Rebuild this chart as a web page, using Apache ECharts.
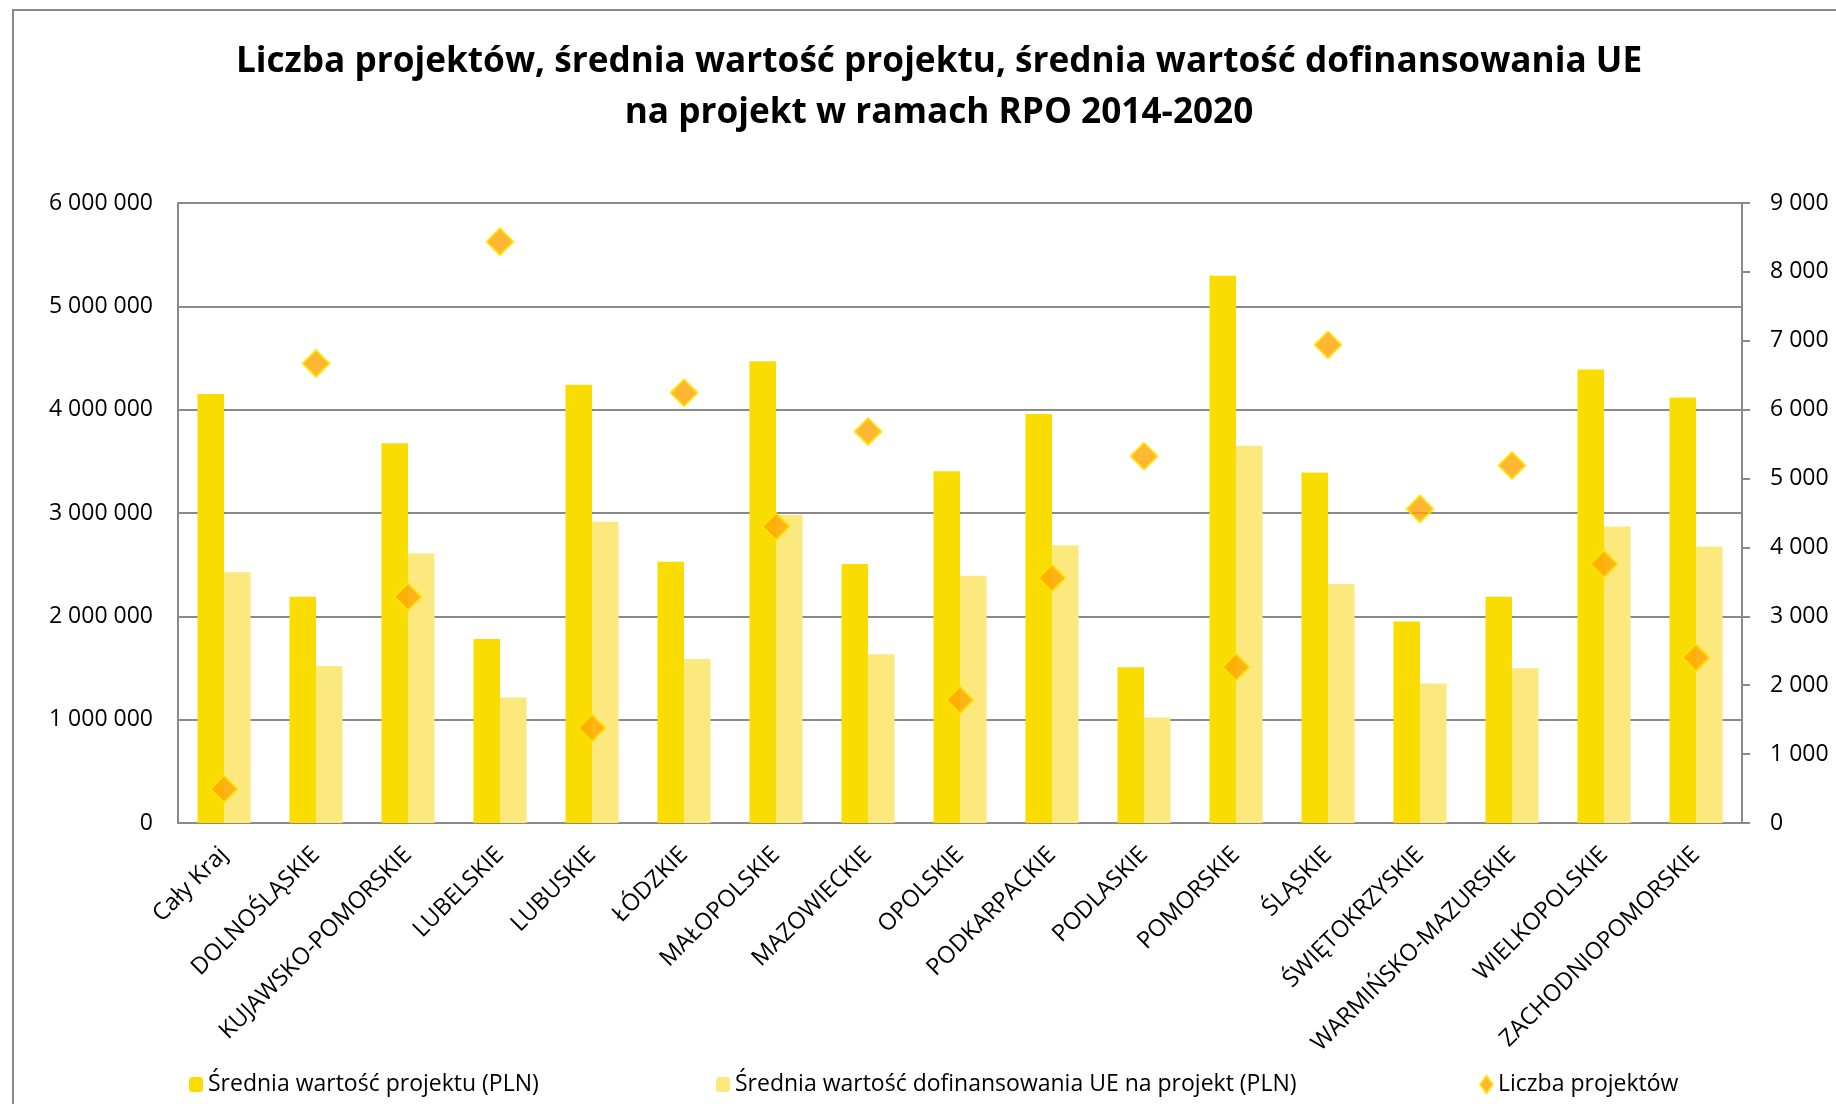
<!DOCTYPE html>
<html>
<head>
<meta charset="utf-8">
<script src="https://cdn.jsdelivr.net/npm/echarts@6/dist/echarts.min.js"></script>
<style>
  html, body { margin: 0; padding: 0; background: #fff; }
  #chart { width: 1836px; height: 1104px; }
</style>
</head>
<body>
<div id="chart"></div>
<script>
// Regions (voivodeships) plus the whole-country figure
const categories = [
  'Cały Kraj', 'DOLNOŚLĄSKIE', 'KUJAWSKO-POMORSKIE', 'LUBELSKIE', 'LUBUSKIE',
  'ŁÓDZKIE', 'MAŁOPOLSKIE', 'MAZOWIECKIE', 'OPOLSKIE', 'PODKARPACKIE',
  'PODLASKIE', 'POMORSKIE', 'ŚLĄSKIE', 'ŚWIĘTOKRZYSKIE', 'WARMIŃSKO-MAZURSKIE',
  'WIELKOPOLSKIE', 'ZACHODNIOPOMORSKIE'
];

// Średnia wartość projektu (PLN)
const avgProjectValue = [
  4151000, 2189000, 3675000, 1781000, 4242000,
  2529000, 4469000, 2507000, 3403000, 3958000,
  1508000, 5297000, 3391000, 1951000, 2189000,
  4389000, 4117000
];

// Średnia wartość dofinansowania UE na projekt (PLN)
const avgEuFunding = [
  2427000, 1520000, 2609000, 1214000, 2915000,
  1588000, 2983000, 1633000, 2393000, 2688000,
  1021000, 3652000, 2314000, 1350000, 1497000,
  2869000, 2677000
];

// Liczba projektów
const projectCount = [
  493, 6669, 3283, 8438, 1378,
  6244, 4304, 5682, 1786, 3556,
  5325, 2263, 6941, 4559, 5189,
  3760, 2399
];

const seriesNames = [
  'Średnia wartość projektu (PLN)',
  'Średnia wartość dofinansowania UE na projekt (PLN)',
  'Liczba projektów'
];

const FONT = '"Open Sans", sans-serif';
const GRID_GRAY = '#8a8a8a';

function spaced(v) {
  return String(v).replace(/\B(?=(\d{3})+(?!\d))/g, ' ');
}

const chart = echarts.init(document.getElementById('chart'));

const legendText = { fontFamily: FONT, fontSize: 23, color: '#000' };

chart.setOption({
  backgroundColor: '#ffffff',
  animation: false,
  title: {
    text: 'Liczba projektów, średnia wartość projektu, średnia wartość dofinansowania UE\nna projekt w ramach RPO 2014-2020',
    left: 934,
    top: 31,
    textAlign: 'center',
    textStyle: {
      fontFamily: FONT,
      fontWeight: 'bold',
      fontSize: 35.2,
      lineHeight: 51,
      color: '#000'
    }
  },
  graphic: [
    {
      type: 'rect',
      shape: { x: 13, y: 10, width: 1860, height: 1120 },
      style: { fill: 'none', stroke: GRID_GRAY, lineWidth: 2 },
      silent: true
    }
  ],
  legend: [
    {
      data: [seriesNames[0]],
      left: 184, top: 1068,
      itemWidth: 14, itemHeight: 15, itemGap: 8,
      textStyle: legendText
    },
    {
      data: [seriesNames[1]],
      left: 711, top: 1068,
      itemWidth: 14, itemHeight: 15, itemGap: 8,
      textStyle: legendText
    },
    {
      data: [seriesNames[2]],
      left: 1474, top: 1068,
      itemWidth: 13, itemHeight: 18, itemGap: 4,
      textStyle: legendText
    }
  ],
  grid: {
    left: 178,
    right: 94,
    top: 203,
    bottom: 281,
    containLabel: false
  },
  xAxis: {
    type: 'category',
    data: categories,
    axisLine: { show: true, lineStyle: { color: GRID_GRAY, width: 2 } },
    axisTick: { show: false },
    axisLabel: {
      interval: 0,
      rotate: 45,
      margin: 28,
      fontFamily: FONT,
      fontSize: 23.5,
      color: '#000'
    }
  },
  yAxis: [
    {
      type: 'value',
      min: 0,
      max: 6000000,
      interval: 1000000,
      axisLine: { show: true, lineStyle: { color: GRID_GRAY, width: 2 } },
      axisTick: { show: false },
      splitLine: { show: true, lineStyle: { color: GRID_GRAY, width: 2 } },
      axisLabel: {
        margin: 25,
        fontFamily: FONT,
        fontSize: 23,
        color: '#000',
        formatter: spaced
      }
    },
    {
      type: 'value',
      min: 0,
      max: 9000,
      interval: 1000,
      position: 'right',
      axisLine: { show: true, lineStyle: { color: GRID_GRAY, width: 2 } },
      axisTick: { show: true, inside: false, length: 8, lineStyle: { color: GRID_GRAY, width: 2 } },
      splitLine: { show: false },
      axisLabel: {
        margin: 28,
        fontFamily: FONT,
        fontSize: 23,
        color: '#000',
        formatter: spaced
      }
    }
  ],
  series: [
    {
      name: seriesNames[0],
      type: 'bar',
      yAxisIndex: 0,
      data: avgProjectValue,
      barWidth: 26.5,
      barGap: '0%',
      itemStyle: { color: '#F9DC02' }
    },
    {
      name: seriesNames[1],
      type: 'bar',
      yAxisIndex: 0,
      data: avgEuFunding,
      barWidth: 26.5,
      barGap: '0%',
      itemStyle: { color: '#FBE97E' }
    },
    {
      name: seriesNames[2],
      type: 'scatter',
      yAxisIndex: 1,
      data: projectCount,
      symbol: 'diamond',
      symbolSize: 27,
      z: 5,
      itemStyle: { color: '#FFA500', borderColor: '#FFE600', borderWidth: 2 }
    }
  ]
});
</script>
</body>
</html>
